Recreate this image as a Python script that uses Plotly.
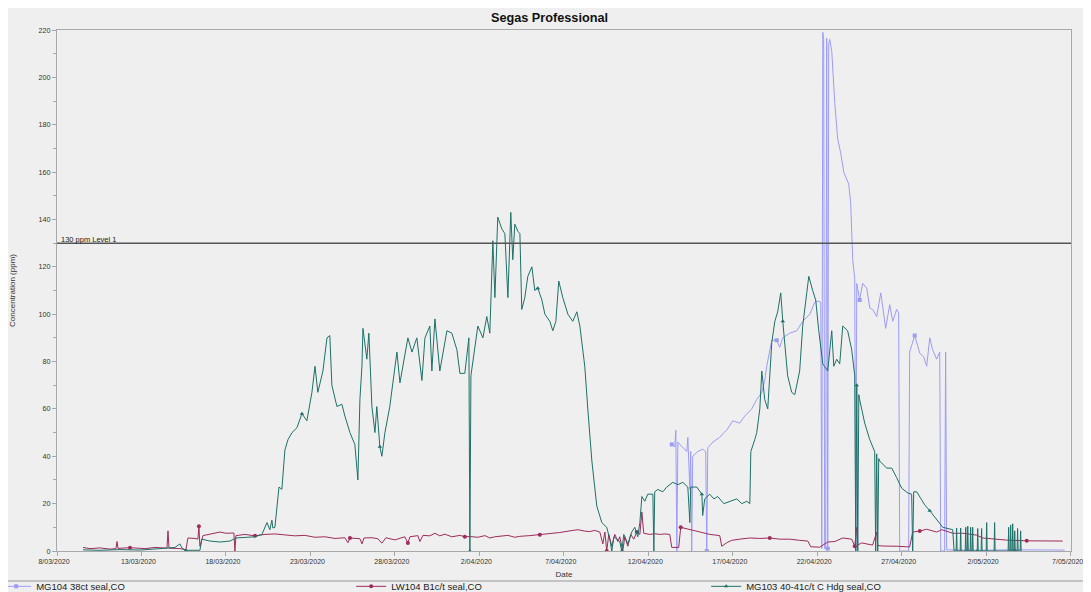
import pandas as pd
import plotly.graph_objects as go

START = pd.Timestamp('2020-03-08')

# days after 8/03/2020 00:00, and the reading in ppm, taken off the chart
mg104_day = [
    36.39, 36.57, 36.63, 36.69, 36.75, 36.98, 37.16, 37.28, 37.34, 37.46,
    37.51, 37.57, 37.63, 37.93, 38.22, 38.40, 38.46, 38.52, 38.82, 39.05,
    39.23, 39.47, 39.64, 40.00, 40.41, 40.71, 41.12, 41.42, 41.72, 41.89,
    42.01, 42.31, 42.60, 42.78, 42.96, 43.37, 43.79, 44.14, 44.56, 44.85,
    45.03, 45.21, 45.27, 45.33, 45.38, 45.44, 45.50, 45.56, 45.62, 45.68,
    45.74, 45.86, 46.04, 46.21, 46.39, 46.57, 46.75, 46.86, 46.98, 47.04,
    47.10, 47.22, 47.28, 47.34, 47.51, 47.69, 47.93, 48.11, 48.28, 48.52,
    48.76, 48.88, 49.05, 49.29, 49.47, 49.70, 49.82, 49.88, 50.41, 50.47,
    50.77, 51.07, 51.30, 51.48, 51.66, 51.83, 52.07, 52.25, 52.31, 52.54,
    52.60, 52.66, 54.62, 56.39, 58.17, 59.64,
]
mg104_ppm = [
    45, 44, 51, 0, 46, 44, 43, 42, 48, 26,
    42, 0, 40, 42, 43, 42, 0, 43.5, 46, 47,
    48, 50, 51, 55, 54, 57, 60, 64, 67, 72,
    78, 89, 89, 86, 90, 92, 93, 97, 100, 105,
    105.5, 105, 1, 219, 216, 1, 1, 216.6, 1, 214,
    216, 211, 189, 174, 168, 160, 157, 155, 147, 130,
    123, 115, 0, 113, 106, 113, 111, 102.6, 102, 99,
    109, 103, 94, 104, 97, 102, 100.5, 0, 0, 84,
    91, 83.5, 82, 78, 90, 85, 81, 84, 0, 0,
    84, 0.5, 0.3, 0.5, 0.3, 0.4,
]

lw104_day = [
    1.54, 1.95, 2.54, 3.14, 3.49, 3.55, 3.61, 4.32, 5.21, 5.80,
    6.51, 6.57, 6.63, 7.28, 7.63, 7.75, 8.17, 8.34, 8.40, 8.46,
    8.64, 9.05, 9.35, 9.64, 10.00, 10.47, 10.53, 10.59, 11.12, 11.72,
    12.31, 12.90, 13.49, 14.08, 14.67, 15.27, 15.86, 16.45, 17.04, 17.22,
    17.34, 17.93, 18.05, 18.17, 18.64, 18.99, 19.23, 19.47, 20.00, 20.30,
    20.59, 20.77, 20.89, 21.36, 21.48, 21.66, 22.07, 22.37, 22.66, 22.96,
    23.37, 23.85, 24.14, 24.44, 24.91, 25.33, 25.62, 25.92, 26.21, 26.69,
    27.10, 27.40, 27.99, 28.58, 29.17, 29.76, 30.36, 30.83, 31.24, 31.54,
    31.83, 32.13, 32.31, 32.43, 32.54, 32.66, 32.84, 33.02, 33.20, 33.31,
    33.49, 33.61, 33.79, 33.96, 34.14, 34.32, 34.50, 34.62, 34.73, 35.09,
    35.38, 35.68, 35.98, 36.27, 36.39, 36.80, 36.92, 37.46, 38.05, 38.64,
    39.23, 39.35, 39.64, 39.94, 40.41, 41.01, 41.60, 42.19, 42.78, 43.37,
    43.96, 44.44, 44.62, 45.15, 45.62, 46.04, 46.51, 47.04, 47.22, 47.34,
    47.40, 47.63, 48.28, 48.52, 48.58, 48.88, 49.76, 50.47, 50.65, 51.07,
    51.48, 51.78, 52.07, 52.37, 53.02, 53.61, 54.44, 54.79, 55.62, 56.21,
    57.40, 58.58, 59.53,
]
lw104_ppm = [
    1.5, 1.0, 1.3, 0.8, 1.0, 4.0, 1.1, 1.4, 1.0, 1.5,
    1.2, 8.5, 1.2, 1.0, 0.5, 5.5, 5.3, 5.0, 10.5, 2.0,
    6.5, 7.0, 7.6, 8.0, 7.5, 7.6, 0.0, 6.5, 7.0, 6.4,
    7.0, 7.2, 6.8, 6.4, 6.6, 5.8, 6.0, 5.3, 5.6, 3.5,
    5.5, 5.2, 3.0, 5.5, 5.6, 5.2, 3.3, 5.6, 4.7, 5.5,
    6.0, 3.4, 6.0, 6.5, 4.0, 6.6, 6.4, 7.5, 6.4, 7.1,
    6.0, 6.6, 6.0, 6.1, 5.8, 6.5, 5.5, 6.0, 6.3, 6.6,
    5.8, 6.2, 6.5, 6.9, 7.3, 7.8, 8.5, 9.0, 8.4, 8.2,
    8.7, 8.0, 3.0, 8.0, 0.0, 7.0, 2.0, 7.0, 4.0, 6.0,
    0.0, 6.0, 2.0, 7.0, 5.0, 8.0, 7.0, 16.5, 7.5, 7.0,
    7.3, 7.0, 7.2, 7.0, 1.5, 1.5, 10.0, 9.0, 8.0, 7.0,
    6.5, 2.0, 3.5, 4.5, 5.0, 5.5, 5.3, 5.5, 5.0, 5.0,
    4.5, 4.2, 1.8, 1.6, 3.8, 4.0, 5.5, 5.0, 2.0, 10.0,
    2.5, 3.4, 2.5, 8.0, 2.3, 2.1, 2.0, 1.7, 8.0, 8.4,
    9.2, 8.6, 8.0, 9.0, 7.5, 7.5, 6.7, 5.5, 5.0, 4.6,
    4.3, 4.2, 4.2,
]

mg103_day = [
    1.54, 2.54, 3.73, 4.91, 6.09, 6.98, 7.28, 7.40, 7.63, 8.46,
    8.58, 9.05, 9.64, 10.24, 10.59, 11.12, 11.72, 12.13, 12.31, 12.43,
    12.60, 12.72, 12.78, 12.90, 13.02, 13.14, 13.31, 13.49, 13.67, 13.91,
    14.20, 14.50, 14.79, 15.09, 15.27, 15.44, 15.74, 15.98, 16.15, 16.27,
    16.57, 16.86, 17.04, 17.34, 17.63, 17.81, 17.93, 18.05, 18.11, 18.34,
    18.46, 18.64, 18.82, 18.93, 19.11, 19.23, 19.41, 19.70, 19.88, 20.12,
    20.30, 20.47, 20.77, 21.01, 21.30, 21.60, 21.78, 22.07, 22.19, 22.37,
    22.66, 23.08, 23.37, 23.67, 23.85, 24.14, 24.38, 24.44, 24.50, 24.91,
    25.21, 25.44, 25.62, 25.80, 25.92, 26.04, 26.09, 26.33, 26.51, 26.69,
    26.86, 26.98, 27.10, 27.28, 27.40, 27.51, 27.69, 27.87, 28.11, 28.28,
    28.46, 28.70, 28.88, 29.17, 29.35, 29.53, 29.70, 29.94, 30.24, 30.53,
    30.77, 30.95, 31.07, 31.24, 31.42, 31.66, 31.95, 32.25, 32.54, 32.72,
    32.84, 32.96, 33.31, 33.43, 33.55, 33.79, 34.02, 34.20, 34.38, 34.50,
    34.62, 34.79, 34.97, 35.27, 35.33, 35.38, 35.56, 35.86, 36.09, 36.45,
    36.75, 37.04, 37.34, 37.46, 37.51, 37.87, 38.17, 38.22, 38.34, 38.64,
    38.88, 39.11, 39.47, 39.82, 40.24, 40.53, 40.83, 41.01, 41.07, 41.30,
    41.42, 41.60, 41.72, 41.89, 42.07, 42.31, 42.49, 42.66, 42.84, 42.96,
    43.14, 43.25, 43.49, 43.67, 43.96, 44.14, 44.38, 44.50, 44.73, 44.91,
    45.09, 45.33, 45.62, 45.86, 45.98, 46.15, 46.33, 46.51, 46.80, 47.04,
    47.22, 47.28, 47.34, 47.40, 47.46, 47.51, 47.81, 48.11, 48.40, 48.46,
    48.52, 48.58, 48.64, 48.70, 49.11, 49.41, 49.70, 50.00, 50.36, 50.59,
    50.65, 50.71, 50.89, 51.07, 51.36, 51.66, 52.07, 52.43, 53.02, 53.10,
    53.22, 53.25, 53.28, 53.46, 53.49, 53.52, 53.76, 53.79, 53.82,
    53.88, 53.91, 53.94, 54.05, 54.08, 54.11, 54.17, 54.20, 54.23,
    54.47, 54.50, 54.53, 54.70, 54.73, 54.76, 55.00, 55.03, 55.06,
    55.47, 55.50, 55.53, 56.30, 56.33, 56.36, 56.42, 56.45, 56.48,
    56.54, 56.57, 56.60, 56.66, 56.69, 56.72, 56.83, 56.86, 56.89,
    57.01, 57.04, 57.07,
]
mg103_ppm = [
    0.5, 0.3, 0.6, 0.4, 1.0, 1.5, 3.0, 1.2, 0.3, 0.3,
    5.0, 4.2, 3.8, 4.2, 5.5, 5.8, 6.0, 7.0, 10.0, 12.0,
    9.0, 13.0, 9.7, 10.0, 18.6, 27.0, 26.0, 42.6, 47.0, 50.0,
    52, 58, 55, 67, 78, 67, 76, 90, 91, 70,
    61, 62, 57, 50, 45, 30, 64, 78, 94, 81,
    92, 61, 50, 61, 44, 40, 50, 61, 71, 84,
    71, 78, 90, 84, 90, 72, 90, 95, 76, 98,
    76, 93, 92, 85, 75, 75, 90, 0, 74, 95,
    90, 99, 92, 131, 107, 131, 141, 136, 134, 107,
    143, 123, 138, 135, 134, 102, 107, 116, 120, 110,
    111, 106, 100, 97, 93, 97, 114, 107, 100, 97,
    101, 95, 88, 78, 60, 38, 19, 12, 10, 5,
    0, 6, 4, 0, 7, 3, 8, 10, 6, 12,
    23, 21, 24, 24, 0, 25, 26, 25, 27, 29,
    28, 29, 27, 12, 27, 27, 24, 15, 22, 24,
    22, 23, 20, 21, 22, 20, 21, 20, 42, 47,
    50, 60, 76, 64, 60, 88, 97, 101, 109, 97,
    82, 74, 67, 66, 76, 95, 109, 116, 110, 106,
    93, 79, 76, 93, 78, 81, 79, 95, 93, 85,
    74, 0, 70, 0, 66, 64, 54, 47, 42, 0,
    41, 0, 39, 38, 35, 35, 31, 26.5, 24.5, 24,
    0, 25, 25, 23, 19.5, 17, 13, 10, 9, 0,
    0, 9.7, 0, 0, 9.7, 0, 0, 10, 0,
    0, 10.5, 0, 0, 10, 0, 0, 10, 0,
    0, 9.5, 0, 0, 9.5, 0, 0, 12, 0,
    0, 12, 0, 0, 10, 0, 0, 11, 0,
    0, 11.5, 0, 0, 8.5, 0, 0, 9.5, 0,
    0, 8.5, 0,
]

level_ppm = 130
level_label = '130 ppm Level 1'

FONT = 'Liberation Sans, Arial, sans-serif'
BG = '#efefef'


def to_time(days):
    return START + pd.to_timedelta(days, unit='D')


def main():
    series = [
        ('MG104 38ct seal,CO', mg104_day, mg104_ppm, '#9c9cf7', 'square', 6),
        ('LW104 B1c/t seal,CO', lw104_day, lw104_ppm, '#9e2b5b', 'circle', 14),
        ('MG103 40-41c/t C Hdg seal,CO', mg103_day, mg103_ppm, '#1e7068', 'triangle-up', 12),
    ]

    fig = go.Figure()
    for name, days, ppm, color, symbol, shown in series:
        fig.add_trace(go.Scatter(
            x=to_time(days), y=ppm, name=name, mode='lines+markers',
            line=dict(color=color, width=1),
            marker=dict(color=color, symbol=symbol, size=4, maxdisplayed=shown),
        ))

    fig.add_hline(y=level_ppm, line=dict(color='#555555', width=1.5))
    fig.add_annotation(x=0, y=level_ppm, xref='paper', yref='y', text=level_label,
                       showarrow=False, xanchor='left', yanchor='bottom', xshift=2, yshift=-3,
                       font=dict(size=7.5, color='#222222'))

    # rule over the legend strip
    fig.add_shape(type='line', xref='paper', yref='paper', x0=-0.0483, x1=1.0197, y0=-0.0576, y1=-0.0576,
                  line=dict(color='#b5b5b5', width=1.5))

    axis = dict(showline=True, linecolor='#a8a8a8', linewidth=1, mirror=True, showgrid=False,
                zeroline=False, ticks='outside', ticklen=4, tickcolor='#a8a8a8',
                tickfont=dict(size=7.2, color='#333333'))
    # last date label sits right at the page edge: slightly smaller font, nudged left
    fig.update_xaxes(axis, range=['2020-03-08', '2020-05-07 00:30'], tick0='2020-03-08',
                     dtick=5 * 86400000, tickformat='%-d/%m/%Y', ticklabeloverflow='allow',
                     tickfont=dict(size=7, color='#333333'), ticklabelshift=-3,
                     title=dict(text='Date', font=dict(size=8, color='#333333'), standoff=6))
    fig.update_yaxes(axis, range=[0, 220], dtick=20,
                     minor=dict(dtick=10, ticks='outside', ticklen=3, tickcolor='#a8a8a8'),
                     title=dict(text='Concentration (ppm)', font=dict(size=8, color='#333333'), standoff=21))

    # the page keeps an 8px body margin, so the figure is 8px smaller each way
    fig.update_layout(
        width=1083, height=584,
        paper_bgcolor=BG, plot_bgcolor=BG,
        font=dict(family=FONT, color='#333333'),
        title=dict(text='<b>Segas Professional</b>', x=0.5, xanchor='center', y=0.983, yanchor='middle',
                   font=dict(size=12.7, color='#111111')),
        margin=dict(l=49, r=20, t=22, b=41, autoexpand=False),
        showlegend=True,
        legend=dict(orientation='h', x=-0.06, xanchor='left', y=-0.040, yanchor='top',
                    entrywidth=310, entrywidthmode='pixels', itemwidth=30,
                    font=dict(size=9.5, color='#222222'), bgcolor='rgba(0,0,0,0)', tracegroupgap=0),
    )

    fig.write_html('out.html')


if __name__ == '__main__':
    main()
